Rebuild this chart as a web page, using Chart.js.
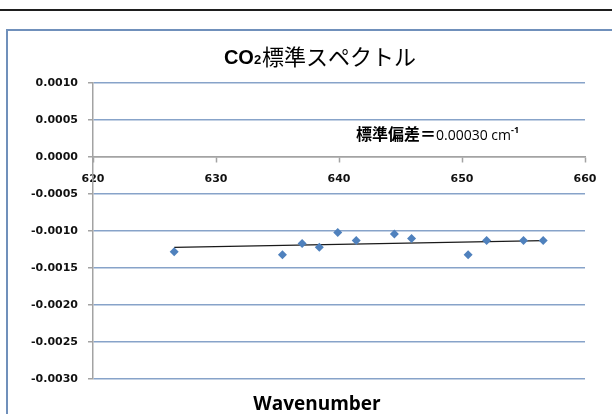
<!DOCTYPE html>
<html><head><meta charset="utf-8">
<script src="https://cdn.jsdelivr.net/npm/chart.js@4/dist/chart.umd.min.js"></script>
<style>
html,body{margin:0;padding:0;background:#fff;overflow:hidden;width:612px;height:414px;}
#topline{position:absolute;left:0;top:9px;width:612px;height:2px;background:#1e1e1e;}
#frame{position:absolute;left:6px;top:29px;width:640px;height:420px;border:2px solid #7090bb;box-sizing:border-box;}
#wrap{position:absolute;left:8px;top:31px;width:622px;height:383px;}
</style></head><body>
<div id="topline"></div><div id="frame"></div>
<div id="wrap"><canvas id="c"></canvas></div>
<script>
// ---- data ----
const wavenumber = [626.6, 635.4, 637.0, 638.4, 639.9, 641.4, 644.5, 645.9, 650.5, 652.0, 655.0, 656.6];
const intensity  = [-0.00128, -0.00132, -0.00117, -0.00122, -0.00102, -0.00113, -0.00104, -0.00110, -0.00132, -0.00113, -0.00113, -0.00113];
const trendX = [626.6, 656.6];
const trendY = [-0.00122, -0.00113];
const xTickValues = [620, 630, 640, 650, 660];
const yTickValues = [0.0010, 0.0005, 0.0000, -0.0005, -0.0010, -0.0015, -0.0020, -0.0025, -0.0030];
const titleCO = 'CO';
const titleSub = '2';
const titleJa = '標準スペクトル';
const noteLabel = '標準偏差＝';
const noteValue = '0.00030 cm';
const noteSup = '-1';
const xTitle = 'Wavenumber';

const GRID = '#87a3c9';
const AXIS = '#a3a3a3';

const textPlugin = {
  id: 'texts',
  afterDraw(chart) {
    const ctx = chart.ctx;
    ctx.save();
    ctx.fillStyle = '#000';
    ctx.textBaseline = 'alphabetic';
    ctx.textAlign = 'left';
    // Title
    const fCO = 'bold 20px "Liberation Sans"';
    const fSub = 'bold 13px "Liberation Sans"';
    const fJa = '22px "Noto Sans CJK JP"';
    ctx.font = fCO; const w1 = ctx.measureText(titleCO).width;
    ctx.font = fSub; const w2 = ctx.measureText(titleSub).width;
    ctx.font = fJa; const w3 = ctx.measureText(titleJa).width;
    let x = 312 - (w1 + w2 + 1 + w3) / 2;
    ctx.font = fCO; ctx.fillText(titleCO, x, 32.5); x += w1;
    ctx.font = fSub; ctx.fillText(titleSub, x, 32.5); x += w2 + 1;
    ctx.font = fJa; ctx.fillText(titleJa, x, 33.5);
    // Note
    let nx = 348;
    ctx.font = 'bold 16px "Noto Sans CJK JP"';
    ctx.fillText(noteLabel, nx, 109); nx += ctx.measureText(noteLabel).width;
    ctx.font = '14px "Open Sans"';
    ctx.fillText(noteValue, nx, 108.5); nx += ctx.measureText(noteValue).width;
    ctx.font = 'bold 9px "Open Sans"';
    ctx.fillText(noteSup, nx, 102);
    // x-axis title
    ctx.font = 'bold 19px "Open Sans"';
    ctx.textAlign = 'center';
    ctx.textBaseline = 'middle';
    ctx.fillText(xTitle, 309, 374);
    ctx.restore();
  }
};

new Chart(document.getElementById('c'), {
  type: 'scatter',
  data: {
    datasets: [
      {
        data: wavenumber.map((v, i) => ({x: v, y: intensity[i]})),
        pointStyle: 'rectRot',
        pointRadius: 4.5,
        pointHoverRadius: 4.5,
        backgroundColor: '#4f81bd',
        borderColor: '#4f81bd',
        borderWidth: 0,
        order: 1
      },
      {
        data: trendX.map((v, i) => ({x: v, y: trendY[i]})),
        showLine: true,
        pointRadius: 0,
        borderColor: '#1a1a1a',
        borderWidth: 1.3,
        order: 2
      }
    ]
  },
  options: {
    responsive: true,
    maintainAspectRatio: false,
    animation: false,
    events: [],
    layout: {padding: {left: 0, right: 45, top: 52, bottom: 35}},
    plugins: {legend: {display: false}, title: {display: false}, tooltip: {enabled: false}},
    scales: {
      x: {
        type: 'linear',
        position: {y: 0},
        min: 620, max: 660,
        afterBuildTicks: s => { s.ticks = xTickValues.map(v => ({value: v})); },
        grid: {display: true, drawOnChartArea: false, drawTicks: true, tickLength: 5, tickColor: AXIS, tickWidth: 1.5},
        border: {display: true, color: AXIS, width: 1.5},
        ticks: {
          color: '#111', padding: 11, maxRotation: 0, autoSkip: false,
          font: {family: 'DejaVu Sans', weight: 'bold', size: 11},
          callback: v => String(v)
        }
      },
      y: {
        type: 'linear',
        position: 'left',
        min: -0.0030, max: 0.0010,
        afterBuildTicks: s => { s.ticks = yTickValues.map(v => ({value: v})); },
        afterFit: s => { s.width = 85; },
        grid: {
          color: ctx => (ctx.tick && Math.abs(ctx.tick.value) < 1e-9) ? AXIS : GRID,
          lineWidth: 1.5,
          drawTicks: true, tickLength: 5, tickColor: AXIS, tickWidth: 1.5
        },
        border: {display: true, color: AXIS, width: 1.5},
        ticks: {
          color: '#111', padding: 10, autoSkip: false,
          font: {family: 'DejaVu Sans', weight: 'bold', size: 11},
          callback: v => Number(v).toFixed(4)
        }
      }
    }
  },
  plugins: [textPlugin]
});
</script>
</body></html>
